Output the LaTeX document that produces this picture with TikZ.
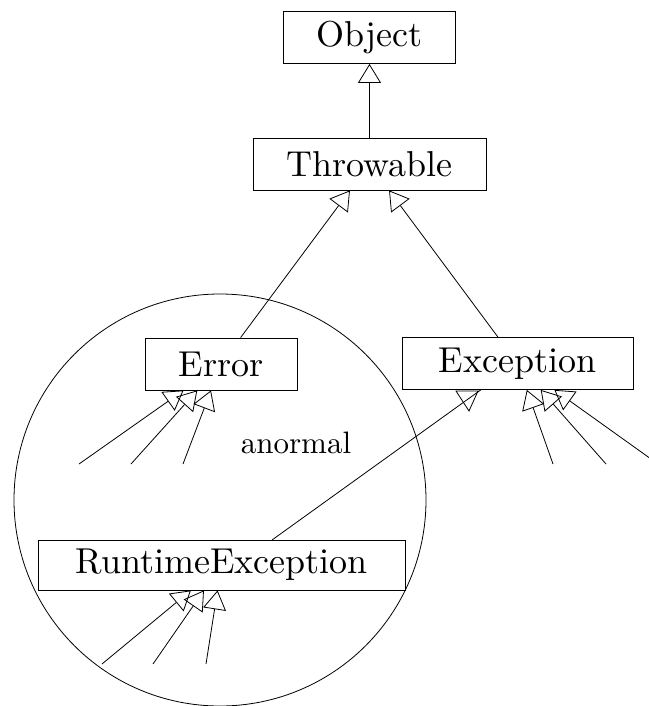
\documentclass[tikz,border=0pt]{standalone}
\usepackage{fontspec}
\setmainfont{lmroman10-regular}[Extension=.otf]
\usetikzlibrary{arrows.meta}
\begin{document}
\begin{tikzpicture}[x=1pt,y=-1pt,
  every path/.style={line width=0.8pt},
  cls/.style={draw, line width=0.8pt, minimum height=52pt, inner sep=0pt,
    font=\fontsize{36}{43}\selectfont},
  uml/.style={-{Triangle[open,length=19pt,width=23pt,line width=0.8pt]}}]
  \useasboundingbox (0,0) rectangle (648,706);

  % the region of abnormal throwables
  \draw (220,500) circle[radius=206pt];
  \node[font=\fontsize{31}{37}\selectfont] (anormal) at (296,443) {anormal};

  % class boxes
  \node[cls, minimum width=172pt] (Object) at (369.5,37.5) {Object};
  \node[cls, minimum width=233pt] (Throwable) at (369.5,164) {Throwable};
  \node[cls, minimum width=152pt] (Error) at (221,364) {Error};
  \node[cls, minimum width=231pt] (Exception) at (517.5,363.5) {Exception};
  \node[cls, minimum width=367pt, minimum height=50pt] (RuntimeException) at (221.5,565) {RuntimeException};

  % inheritance
  \draw[uml] (Throwable) -- (Object);
  \draw[uml] (Error) -- (Throwable);
  \draw[uml] (Exception) -- (Throwable);

  % RuntimeException extends Exception
  \coordinate (rs) at (272,540);
  \draw[shorten >=45pt] (rs) -- (Exception.center);
  \draw (456,391) -- (469,411) -- (478,391) -- cycle;

  % further subclasses
  \foreach \i/\x in {1/79,2/131,3/183}
    {\coordinate (e\i) at (\x,464); \draw[uml] (e\i) -- (Error);}
  \foreach \i/\x in {1/553,2/606,3/658}
    {\coordinate (x\i) at (\x,464); \draw[uml] (x\i) -- (Exception);}
  \foreach \i/\x in {1/102,2/153,3/206}
    {\coordinate (r\i) at (\x,664); \draw[uml] (r\i) -- (RuntimeException);}
\end{tikzpicture}
\end{document}
